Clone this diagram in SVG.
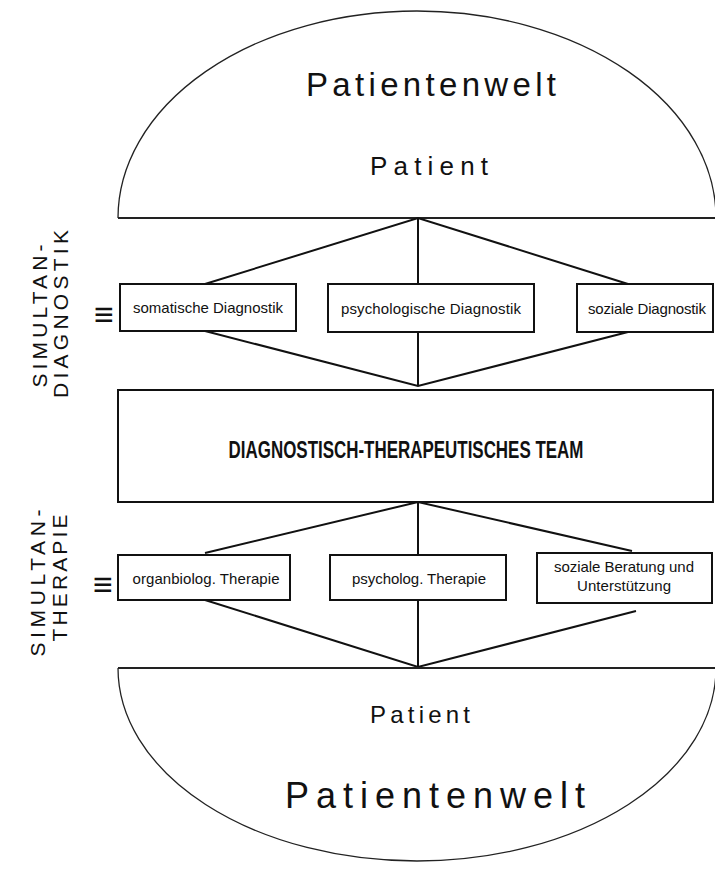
<svg xmlns="http://www.w3.org/2000/svg" width="715" height="874" viewBox="0 0 715 874">
<style>
text{font-family:"Liberation Sans",Arial,sans-serif;fill:#111}
.box{fill:#fff;stroke:#111;stroke-width:2}
.arc{fill:#fff;stroke:#222;stroke-width:1.3}
.base{stroke:#222;stroke-width:2;fill:none}
.con{stroke:#111;stroke-width:2;fill:none}
.lbl{font-size:15px;text-anchor:middle}
.side{font-size:21px;text-anchor:middle}
.big{text-anchor:middle}
.eq{font-family:"DejaVu Sans",sans-serif;font-weight:200;font-size:34px;text-anchor:middle}
</style>
<rect width="715" height="874" fill="#fff"/>
<g id="patientenwelt-top">
<path class="arc" d="M118,218 A299,207 0 0 1 716,218"/>
<line class="base" x1="118" y1="218" x2="715" y2="218"/>
<text class="big" x="431" y="96" font-size="33" textLength="250">Patientenwelt</text>
<text class="big" x="429" y="175" font-size="26" textLength="118">Patient</text>
</g>
<g id="connectors">
<polyline class="con" points="205,284 418,218 628,284"/>
<line class="con" x1="418" y1="218" x2="418" y2="284"/>
<polyline class="con" points="205,331 418,386 628,332"/>
<line class="con" x1="418" y1="332" x2="418" y2="386"/>
<polyline class="con" points="205,553 418,502 632,551"/>
<line class="con" x1="418" y1="502" x2="418" y2="555"/>
<polyline class="con" points="205,600 418,667 636,611"/>
<line class="con" x1="418" y1="600" x2="418" y2="667"/>
</g>
<g id="label-diagnostik">
<text class="side" transform="translate(47,316) rotate(-90)" textLength="143">SIMULTAN-</text>
<text class="side" transform="translate(68,314) rotate(-90)" textLength="168">DIAGNOSTIK</text>
<text class="eq" x="104" y="326">≡</text>
</g>
<g id="somatische-diagnostik">
<rect class="box" x="120" y="284" width="176" height="47"/>
<text class="lbl" x="208" y="313" textLength="150">somatische Diagnostik</text>
</g>
<g id="psychologische-diagnostik">
<rect class="box" x="328" y="284" width="206" height="48"/>
<text class="lbl" x="431" y="314" textLength="180">psychologische Diagnostik</text>
</g>
<g id="soziale-diagnostik">
<rect class="box" x="577" y="284" width="136" height="48"/>
<text class="lbl" x="647" y="314" textLength="118">soziale Diagnostik</text>
</g>
<g id="team">
<rect class="box" x="118" y="390" width="595" height="112"/>
<text transform="translate(406,458) scale(0.706,1)" x="0" y="0" font-size="24" font-weight="bold" text-anchor="middle">DIAGNOSTISCH-THERAPEUTISCHES TEAM</text>
</g>
<g id="label-therapie">
<text class="side" transform="translate(45,583) rotate(-90)" textLength="147">SIMULTAN-</text>
<text class="side" transform="translate(67,578) rotate(-90)" textLength="127">THERAPIE</text>
<text class="eq" x="103" y="596">≡</text>
</g>
<g id="organbiolog-therapie">
<rect class="box" x="118" y="555" width="172" height="45"/>
<text class="lbl" x="206" y="584" textLength="147">organbiolog. Therapie</text>
</g>
<g id="psycholog-therapie">
<rect class="box" x="330" y="555" width="176" height="45"/>
<text class="lbl" x="419" y="584" textLength="134">psycholog. Therapie</text>
</g>
<g id="soziale-beratung">
<rect class="box" x="537" y="553" width="175" height="50"/>
<text class="lbl" x="624" y="572" textLength="140">soziale Beratung und</text>
<text class="lbl" x="624" y="591" textLength="94">Unterstützung</text>
</g>
<g id="patientenwelt-bottom">
<path class="arc" d="M118,668 A299,193 0 0 0 716,668"/>
<line class="base" x1="118" y1="668" x2="715" y2="668"/>
<text class="big" x="420" y="723" font-size="24" textLength="100">Patient</text>
<text class="big" x="435" y="808" font-size="36" textLength="300">Patientenwelt</text>
</g>
</svg>
